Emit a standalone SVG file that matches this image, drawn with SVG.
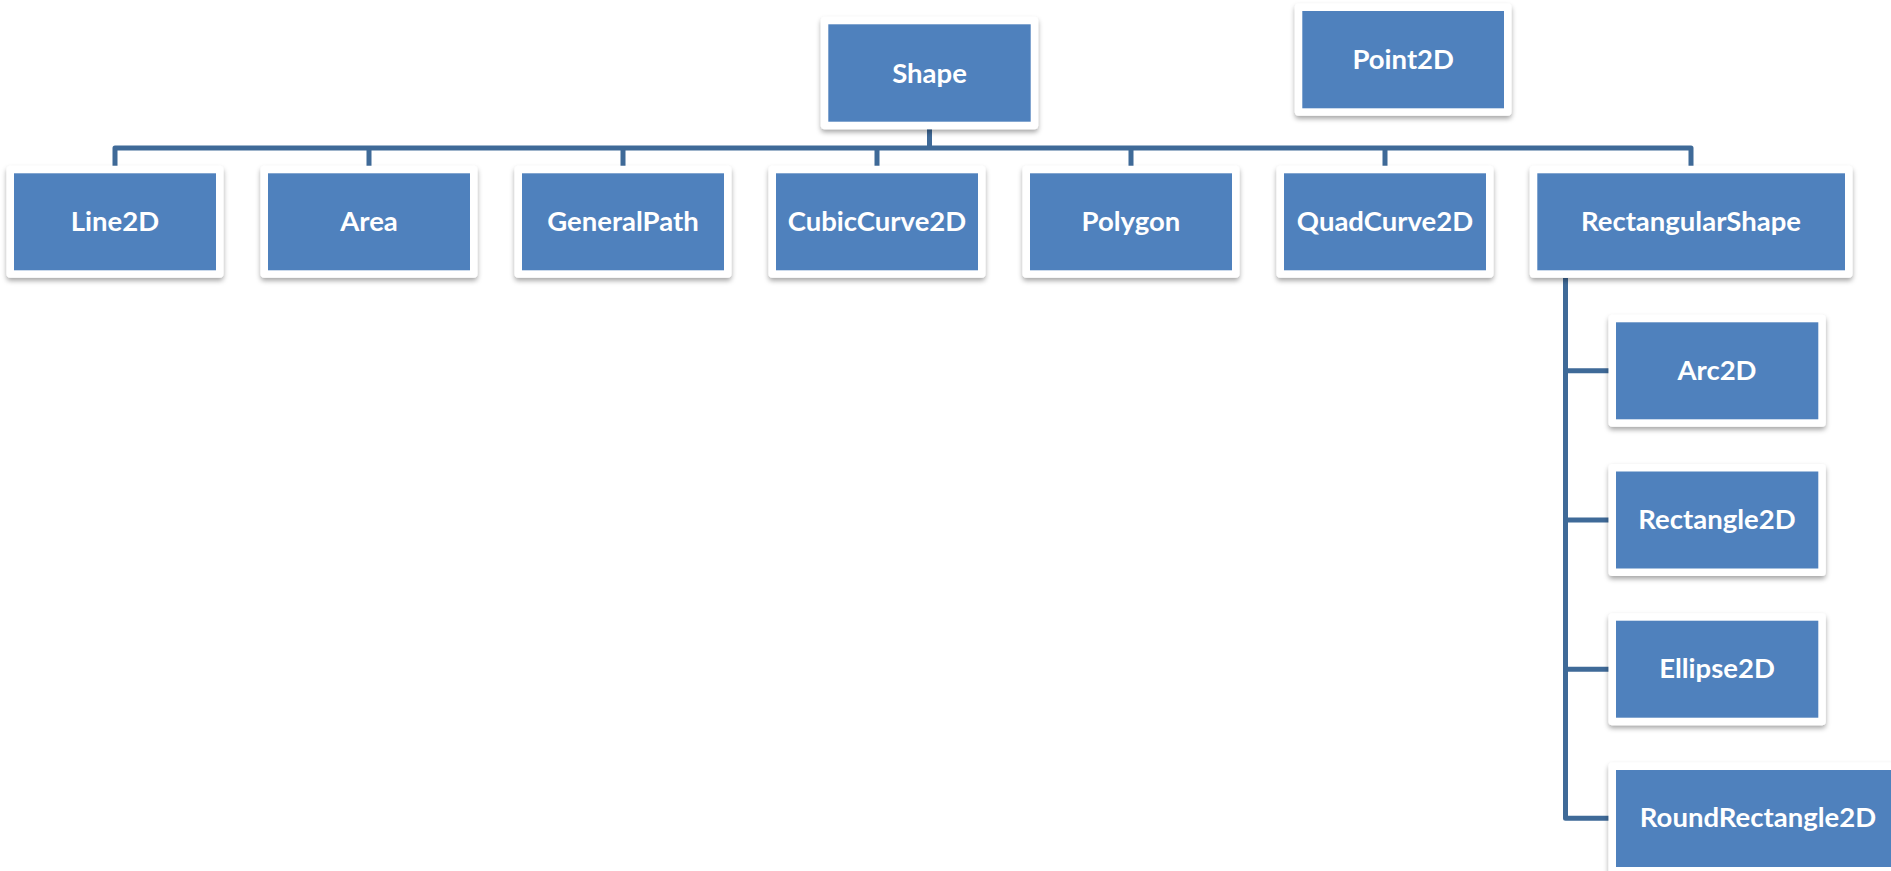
<svg xmlns="http://www.w3.org/2000/svg" width="1891" height="871" viewBox="0 0 1891 871">
<defs>
<filter id="sh" x="-10%" y="-10%" width="120%" height="130%">
<feDropShadow dx="0" dy="3" stdDeviation="2.5" flood-color="#000" flood-opacity="0.35"/>
</filter>
<style>
.frame{fill:#ffffff;filter:url(#sh)}
.box{fill:#4F81BD}
.lbl{font-family:"Lato","Open Sans",sans-serif;font-weight:bold;font-size:27.5px;fill:#ffffff;text-anchor:middle}
.conn{fill:none;stroke:#3F6A98;stroke-width:5;stroke-linejoin:round}
</style>
</defs>
<rect width="1891" height="871" fill="#ffffff"/>
<g id="connectors">
<path class="conn" d="M115,166 V148 H1691 V166"/>
<path class="conn" d="M929.5,129 V148"/>
<path class="conn" d="M369,148 V166 M623,148 V166 M877,148 V166 M1131,148 V166 M1385,148 V166"/>
<path class="conn" d="M1565.5,278 V818.3 H1609"/>
<path class="conn" d="M1565.5,370.7 H1609 M1565.5,520 H1609 M1565.5,669.3 H1609"/>
</g>
<g id="Shape"><rect class="frame" x="820.8" y="16.8" width="217.4" height="112.4" rx="4"/><rect class="box" x="828.3" y="24.3" width="202.4" height="97.4"/><text class="lbl" x="929.5" y="82.5">Shape</text></g>
<g id="Point2D"><rect class="frame" x="1294.8" y="3.5" width="216.7" height="112.3" rx="4"/><rect class="box" x="1302.3" y="11" width="201.7" height="97.3"/><text class="lbl" x="1403.2" y="69">Point2D</text></g>
<g id="Line2D"><rect class="frame" x="6.5" y="165.8" width="217" height="112" rx="4"/><rect class="box" x="14" y="173.3" width="202" height="97"/><text class="lbl" x="115" y="230.5">Line2D</text></g>
<g id="Area"><rect class="frame" x="260.5" y="165.8" width="217" height="112" rx="4"/><rect class="box" x="268" y="173.3" width="202" height="97"/><text class="lbl" x="369" y="230.5">Area</text></g>
<g id="GeneralPath"><rect class="frame" x="514.5" y="165.8" width="217" height="112" rx="4"/><rect class="box" x="522" y="173.3" width="202" height="97"/><text class="lbl" x="623" y="230.5">GeneralPath</text></g>
<g id="CubicCurve2D"><rect class="frame" x="768.5" y="165.8" width="217" height="112" rx="4"/><rect class="box" x="776" y="173.3" width="202" height="97"/><text class="lbl" x="877" y="230.5">CubicCurve2D</text></g>
<g id="Polygon"><rect class="frame" x="1022.5" y="165.8" width="217" height="112" rx="4"/><rect class="box" x="1030" y="173.3" width="202" height="97"/><text class="lbl" x="1131" y="230.5">Polygon</text></g>
<g id="QuadCurve2D"><rect class="frame" x="1276.5" y="165.8" width="217" height="112" rx="4"/><rect class="box" x="1284" y="173.3" width="202" height="97"/><text class="lbl" x="1385" y="230.5">QuadCurve2D</text></g>
<g id="RectangularShape"><rect class="frame" x="1529.8" y="165.8" width="322.7" height="112" rx="4"/><rect class="box" x="1537.3" y="173.3" width="307.7" height="97"/><text class="lbl" x="1691" y="230.5">RectangularShape</text></g>
<g id="Arc2D"><rect class="frame" x="1608.5" y="314.8" width="217.3" height="112" rx="4"/><rect class="box" x="1616" y="322.3" width="202.3" height="97"/><text class="lbl" x="1717" y="379.5">Arc2D</text></g>
<g id="Rectangle2D"><rect class="frame" x="1608.5" y="464" width="217.3" height="112" rx="4"/><rect class="box" x="1616" y="471.5" width="202.3" height="97"/><text class="lbl" x="1717" y="528.7">Rectangle2D</text></g>
<g id="Ellipse2D"><rect class="frame" x="1608.5" y="613.2" width="217.3" height="112" rx="4"/><rect class="box" x="1616" y="620.7" width="202.3" height="97"/><text class="lbl" x="1717" y="677.9">Ellipse2D</text></g>
<g id="RoundRectangle2D"><rect class="frame" x="1608.5" y="762.5" width="299" height="112" rx="4"/><rect class="box" x="1616" y="770" width="284" height="97"/><text class="lbl" x="1758" y="827.2">RoundRectangle2D</text></g>
</svg>
